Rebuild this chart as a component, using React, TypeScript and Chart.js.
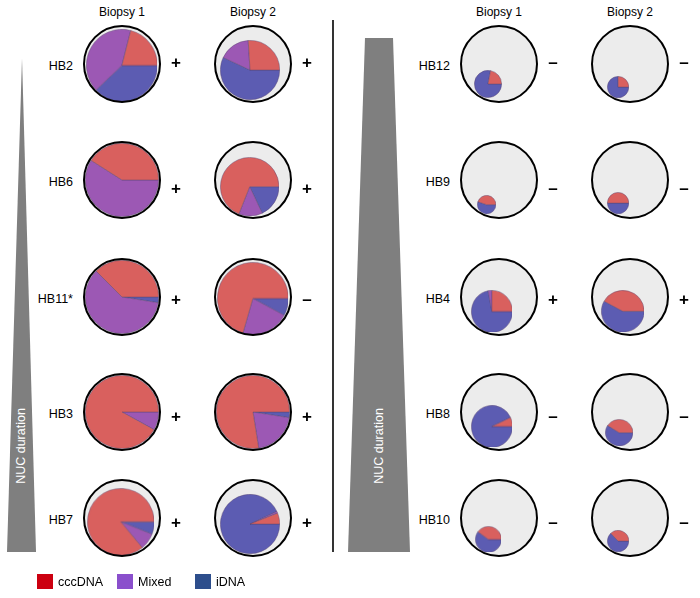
import { useEffect, useRef } from "react";
import { Chart, registerables } from "chart.js";

Chart.register(...registerables);

const patients = ["HB2", "HB6", "HB11*", "HB3", "HB7", "HB12", "HB9", "HB4", "HB8", "HB10"];
const biopsies = ["Biopsy 1", "Biopsy 2"];
const seriesLabels = ["cccDNA", "Mixed", "iDNA"];

// share (%) of each DNA form, biopsy 1
const cccDNA1 = [21, 41, 37.5, 92, 86, 22, 45, 25, 7, 40];
const mixed1 = [41, 59, 60, 8, 8, 0, 0, 3, 0, 0];
const iDNA1 = [38, 0, 2.5, 0, 6, 78, 55, 72, 93, 60];
// biopsy 2
const cccDNA2 = [26, 69, 70.5, 77.5, 6, 25, 50, 42, 41, 37];
const mixed2 = [17, 13, 21.7, 20, 1, 0, 0, 0, 0, 0];
const iDNA2 = [57, 18, 7.8, 2.5, 93, 75, 50, 58, 59, 63];
// relative pie size (1 = fills the circle)
const size1 = [0.97, 1, 1, 1, 0.9, 0.37, 0.25, 0.56, 0.56, 0.34];
const size2 = [0.81, 0.8, 0.97, 1, 0.81, 0.29, 0.29, 0.57, 0.36, 0.29];
const sign1 = ["+", "+", "+", "+", "+", "–", "–", "+", "–", "–"];
const sign2 = ["+", "+", "–", "+", "+", "–", "–", "+", "–", "–"];

const pieColors = ["#d9605e", "#9c58b4", "#5c5cb2"];
const legendColors = ["#cc0010", "#8a4fcc", "#2d4e8c"];
const FONT = '"Liberation Sans", Arial, sans-serif';

const colX = [
  [122, 253],
  [499, 630],
];
const rowY = [64, 180, 297, 412, 518];
const signDy = [-1, 9, 3, 5, 5];

function PieCell({ cx, cy, values, size }: { cx: number; cy: number; values: number[]; size: number }) {
  const ref = useRef<HTMLCanvasElement>(null);
  const R = 36.5;
  const r = R * size;
  const ang = (118 * Math.PI) / 180;
  const px = cx + (R - r) * Math.cos(ang);
  const py = cy + (R - r) * Math.sin(ang);
  const d = 2 * r + 1;

  useEffect(() => {
    if (!ref.current) return;
    // R-style pie: counter-clockwise from 3 o'clock, so feed reversed order clockwise
    const data = [...values].reverse();
    const chart = new Chart(ref.current, {
      type: "pie",
      data: {
        labels: [...seriesLabels].reverse(),
        datasets: [
          {
            data,
            backgroundColor: [...pieColors].reverse(),
            borderColor: "rgba(90,70,110,0.55)",
            borderWidth: (c: any) => (data[c.dataIndex] === 0 ? 0 : 0.8),
            hoverOffset: 0,
            offset: 0,
          },
        ],
      },
      options: {
        responsive: true,
        maintainAspectRatio: false,
        animation: false,
        rotation: 90,
        events: [],
        layout: { padding: 0 },
        plugins: { legend: { display: false }, tooltip: { enabled: false } },
      },
    });
    return () => chart.destroy();
  }, []);

  return (
    <>
      <div
        style={{
          position: "absolute",
          left: cx - 39,
          top: cy - 39,
          width: 78,
          height: 78,
          borderRadius: "50%",
          background: "#ececec",
        }}
      />
      <div style={{ position: "absolute", left: px - d / 2, top: py - d / 2, width: d, height: d }}>
        <canvas ref={ref} />
      </div>
      <div
        style={{
          position: "absolute",
          left: cx - 39,
          top: cy - 39,
          width: 78,
          height: 78,
          borderRadius: "50%",
          border: "2.5px solid #000",
          boxSizing: "border-box",
        }}
      />
    </>
  );
}

const text = (extra: any) => ({
  position: "absolute" as const,
  fontFamily: FONT,
  color: "#000",
  whiteSpace: "nowrap" as const,
  ...extra,
});

export default function App() {
  return (
    <div style={{ position: "absolute", left: 0, top: 0, width: 700, height: 598, background: "#fff" }}>
      {/* NUC duration wedges */}
      <svg width={700} height={598} style={{ position: "absolute", left: 0, top: 0 }}>
        <polygon points="22,58 36,552 7,552" fill="#7f7f7f" />
        <polygon points="365,38 393,38 410,552 348,552" fill="#7f7f7f" />
        <line x1={333} y1={20} x2={333} y2={552} stroke="#000" strokeWidth={1.6} />
      </svg>
      {[21, 379].map((x) => (
        <div
          key={x}
          style={text({
            left: x,
            top: 446,
            fontSize: 12.5,
            color: "#fff",
            transform: "translate(-50%, -50%) rotate(-90deg)",
          })}
        >
          NUC duration
        </div>
      ))}

      {colX.map((cols, p) =>
        cols.map((x, b) => (
          <div key={`h${p}${b}`} style={text({ left: x, top: 12, fontSize: 12, transform: "translate(-50%, -50%)" })}>
            {biopsies[b]}
          </div>
        ))
      )}

      {patients.map((name, i) => {
        const p = i < 5 ? 0 : 1;
        const row = i % 5;
        const y = rowY[row];
        const cells = [
          { x: colX[p][0], values: [cccDNA1[i], mixed1[i], iDNA1[i]], size: size1[i], sign: sign1[i] },
          { x: colX[p][1], values: [cccDNA2[i], mixed2[i], iDNA2[i]], size: size2[i], sign: sign2[i] },
        ];
        return (
          <div key={name}>
            <div style={text({ left: colX[p][0] - 49, top: y + 2, fontSize: 12.5, transform: "translate(-100%, -50%)" })}>
              {name}
            </div>
            {cells.map((c, b) => (
              <div key={b}>
                <PieCell cx={c.x} cy={y} values={c.values} size={c.size} />
                <div
                  style={text({
                    left: c.x + 54,
                    top: y + signDy[row],
                    fontSize: 17,
                    fontWeight: "bold",
                    transform: "translate(-50%, -50%)",
                  })}
                >
                  {c.sign}
                </div>
              </div>
            ))}
          </div>
        );
      })}

      {/* legend */}
      {seriesLabels.map((label, k) => {
        const lx = [37, 117, 195][k];
        return (
          <div key={label}>
            <div style={{ position: "absolute", left: lx, top: 574, width: 16, height: 15, background: legendColors[k] }} />
            <div style={text({ left: lx + 21, top: 581.5, fontSize: 12.5, transform: "translateY(-50%)" })}>{label}</div>
          </div>
        );
      })}
    </div>
  );
}
